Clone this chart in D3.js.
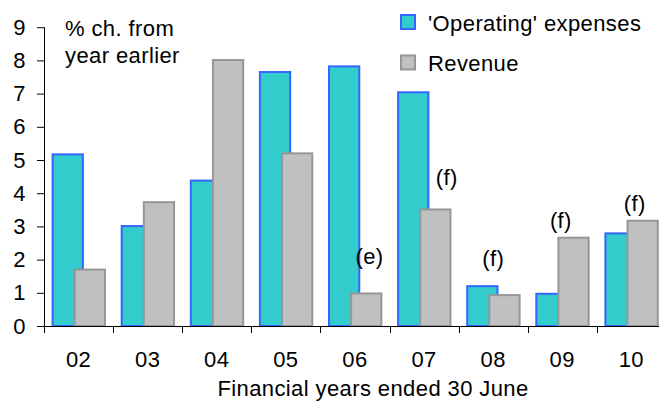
<!DOCTYPE html>
<html>
<head>
<meta charset="utf-8">
<script src="https://cdn.jsdelivr.net/npm/d3@7"></script>
<style>
	body { margin: 0; background: #fff; }
	svg { display: block; font-family: 'Liberation Sans', Arial, sans-serif; }
	text { fill: #000; font-size: 22px; letter-spacing: 0.4px; }
</style>
</head>
<body>
<script>

// Data uit de grafiek
const years = [ '02', '03', '04', '05', '06', '07', '08', '09', '10' ],
	operating = [ 5.17, 3.01, 4.38, 7.65, 7.82, 7.04, 1.20, 0.97, 2.79 ],
	revenue = [ 1.70, 3.73, 8.01, 5.20, 0.98, 3.51, 0.93, 2.66, 3.17 ],
	yTicks = [ 0, 1, 2, 3, 4, 5, 6, 7, 8, 9 ],

	// Notities boven de balken: jaar, tekst, hoogte (in %) en verschuiving in de band
	noteYears = [ '06', '07', '08', '09', '10' ],
	noteText = [ '(e)', '(f)', '(f)', '(f)', '(f)' ],
	noteLevel = [ 1.88, 4.24, 1.82, 2.95, 3.46 ],
	noteShift = [ 0.21, 0.33, 0, -0.02, 0.05 ],

	seriesNames = [ '\'Operating\' expenses', 'Revenue' ]

const width = 659,
	height = 401,
	plotLeft = 44,
	plotBottom = 326,
	plotTop = 27.2,
	band = 69.1

const svg = d3.select( 'body' )
	.append( 'svg' )
	.attr( 'width', width )
	.attr( 'height', height )

const x = d3.scaleBand()
		.domain( years )
		.range( [ plotLeft, plotLeft + band * years.length ] ),

	y = d3.scaleLinear()
		.domain( [ 0, 9 ] )
		.range( [ plotBottom, plotTop ] ),

	bw = x.bandwidth(),
	barW = 0.467 * bw,
	opsOff = 0.11 * bw,
	revOff = opsOff + 0.32 * bw

const data = years.map( ( yr, i ) => ( { year: yr, ops: operating[ i ], rev: revenue[ i ] } ) )

// Balken: eerst operating, daarna revenue eroverheen
svg.append( 'g' )
	.selectAll( 'rect' )
	.data( data )
	.enter()
	.append( 'rect' )
	.attr( 'x', d => x( d.year ) + opsOff + 1 )
	.attr( 'y', d => y( d.ops ) )
	.attr( 'width', barW - 2 )
	.attr( 'height', d => plotBottom - y( d.ops ) )
	.attr( 'fill', '#33CCCC' )
	.attr( 'stroke', '#3366FF' )
	.attr( 'stroke-width', 2 )

svg.append( 'g' )
	.selectAll( 'rect' )
	.data( data )
	.enter()
	.append( 'rect' )
	.attr( 'x', d => x( d.year ) + revOff + 1 )
	.attr( 'y', d => y( d.rev ) )
	.attr( 'width', barW - 2 )
	.attr( 'height', d => plotBottom - y( d.rev ) )
	.attr( 'fill', '#C0C0C0' )
	.attr( 'stroke', '#969696' )
	.attr( 'stroke-width', 2 )

// Y as
const yAxis = svg.append( 'g' )
	.attr( 'transform', `translate( ${ plotLeft }, 0 )` )
	.call( d3.axisLeft( y )
		.tickValues( yTicks )
		.tickSize( 7 )
		.tickPadding( 11 )
		.tickFormat( d3.format( 'd' ) ) )

yAxis.select( '.domain' ).attr( 'stroke', '#000' ).attr( 'd', `M0.5,${ plotTop }V${ plotBottom }` )
yAxis.selectAll( '.tick line' ).attr( 'stroke', '#000' )
yAxis.selectAll( 'text' )
	.attr( 'font-size', 22 )
	.attr( 'font-family', null )
	.attr( 'fill', '#000' )

// X as, streepjes tussen de jaren
const xAxis = svg.append( 'g' )
	.attr( 'transform', `translate( 0, ${ plotBottom } )` )

xAxis.append( 'line' )
	.attr( 'x1', plotLeft )
	.attr( 'x2', x.range()[ 1 ] )
	.attr( 'y1', 0.5 )
	.attr( 'y2', 0.5 )
	.attr( 'stroke', '#000' )

xAxis.selectAll( '.sep' )
	.data( years.concat( [ null ] ) )
	.enter()
	.append( 'line' )
	.attr( 'x1', ( d, i ) => Math.round( plotLeft + i * bw ) + 0.5 )
	.attr( 'x2', ( d, i ) => Math.round( plotLeft + i * bw ) + 0.5 )
	.attr( 'y1', 0 )
	.attr( 'y2', 7 )
	.attr( 'stroke', '#000' )

xAxis.selectAll( '.lbl' )
	.data( years )
	.enter()
	.append( 'text' )
	.attr( 'x', d => x( d ) + bw / 2 )
	.attr( 'y', 41 )
	.attr( 'text-anchor', 'middle' )
	.text( d => d )

svg.append( 'text' )
	.attr( 'x', 373 )
	.attr( 'y', 396 )
	.attr( 'text-anchor', 'middle' )
	.text( 'Financial years ended 30 June' )

// Eenheid linksboven
svg.append( 'text' )
	.attr( 'x', 65 )
	.attr( 'y', 36 )
	.text( '% ch. from' )

svg.append( 'text' )
	.attr( 'x', 65 )
	.attr( 'y', 63 )
	.text( 'year earlier' )

// Notities (e) en (f)
svg.append( 'g' )
	.selectAll( 'text' )
	.data( noteYears )
	.enter()
	.append( 'text' )
	.attr( 'x', ( d, i ) => x( d ) + bw / 2 + noteShift[ i ] * bw )
	.attr( 'y', ( d, i ) => y( noteLevel[ i ] ) )
	.attr( 'text-anchor', 'middle' )
	.text( ( d, i ) => noteText[ i ] )

// Legenda
const legend = svg.append( 'g' )
	.selectAll( 'g' )
	.data( seriesNames )
	.enter()
	.append( 'g' )
	.attr( 'transform', ( d, i ) => `translate( 401, ${ 15 + i * 40.5 } )` )

legend.append( 'rect' )
	.attr( 'width', 14 )
	.attr( 'height', 14 )
	.attr( 'fill', ( d, i ) => i === 0 ? '#33CCCC' : '#C0C0C0' )
	.attr( 'stroke', ( d, i ) => i === 0 ? '#3366FF' : '#969696' )
	.attr( 'stroke-width', 2 )

legend.append( 'text' )
	.attr( 'x', 27 )
	.attr( 'y', 15.5 )
	.text( d => d )

</script>
</body>
</html>
